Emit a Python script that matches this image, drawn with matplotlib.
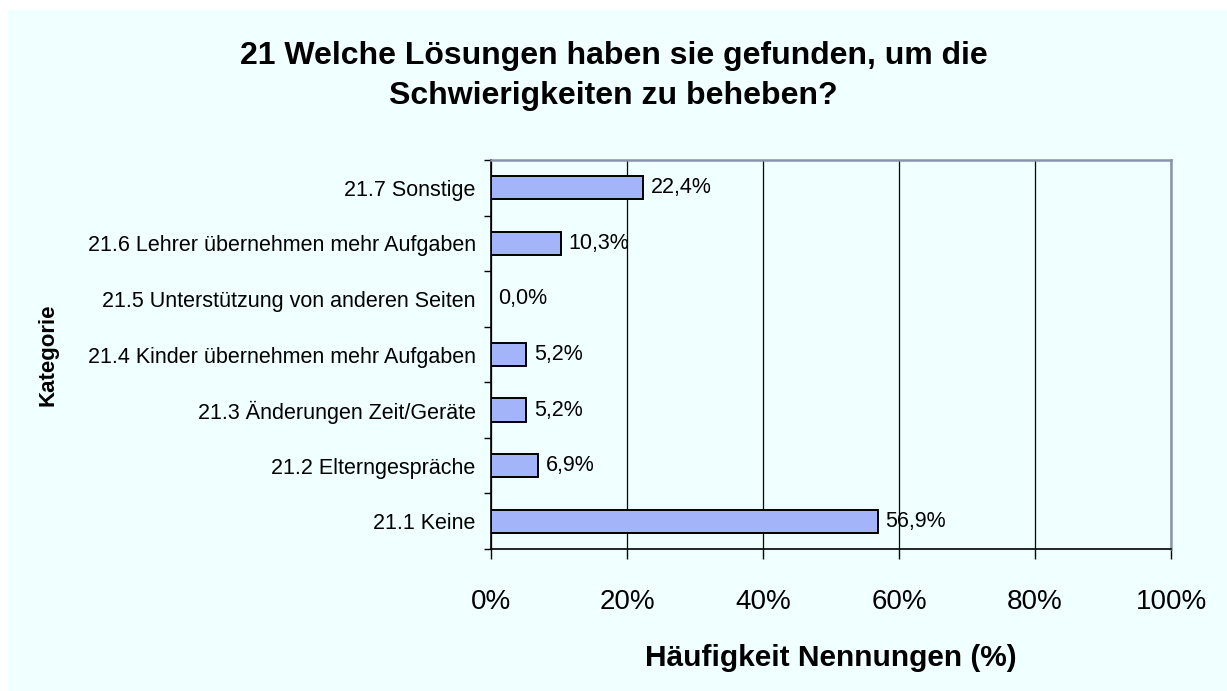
import matplotlib.pyplot as plt
from matplotlib.patches import Rectangle
from matplotlib.ticker import FixedLocator, PercentFormatter

# categories bottom -> top, values in percent
categories = [
    "21.1 Keine",
    "21.2 Elterngespräche",
    "21.3 Änderungen Zeit/Geräte",
    "21.4 Kinder übernehmen mehr Aufgaben",
    "21.5 Unterstützung von anderen Seiten",
    "21.6 Lehrer übernehmen mehr Aufgaben",
    "21.7 Sonstige",
]
values = [56.9, 6.9, 5.2, 5.2, 0.0, 10.3, 22.4]
xticks = [0, 20, 40, 60, 80, 100]

plt.rcParams['font.family'] = ['Liberation Sans', 'DejaVu Sans']

bg = '#F0FFFF'
fig = plt.figure(figsize=(12.27, 6.91), dpi=100)
fig.patch.set_facecolor(bg)
# small white margin on the left and at the top
fig.patches.append(Rectangle((0, 0), 8 / 1227, 1, transform=fig.transFigure,
                             facecolor='white', edgecolor='none', zorder=-10))
fig.patches.append(Rectangle((0, 1 - 10 / 691), 1, 10 / 691, transform=fig.transFigure,
                             facecolor='white', edgecolor='none', zorder=-10))

ax = fig.add_axes([491 / 1227, 1 - 549 / 691, 680 / 1227, 389 / 691])
ax.set_facecolor(bg)

y = list(range(len(categories)))
ax.barh(y, values, height=0.42, color='#A4B4F8', edgecolor='black', linewidth=1.4, zorder=3)

for yi, v in zip(y, values):
    ax.text(v + 1.1, yi, '{:.1f}%'.format(v).replace('.', ','),
            va='center', ha='left', fontsize=15.5, zorder=4)

ax.set_xlim(0, 100)
ax.set_ylim(-0.5, len(categories) - 0.5)
ax.set_xticks(xticks)
ax.xaxis.set_major_formatter(PercentFormatter(decimals=0))
ax.tick_params(axis='x', labelsize=20, length=7, width=1, pad=21.5)

ax.set_yticks(y)
ax.set_yticklabels(categories, fontsize=15.5)
ax.yaxis.set_minor_locator(FixedLocator([i - 0.5 for i in range(len(categories) + 1)]))
ax.tick_params(axis='y', which='major', length=0, pad=11)
ax.tick_params(axis='y', which='minor', length=5, width=1)

ax.grid(axis='x', color='black', linewidth=0.9, zorder=1)
ax.set_axisbelow(True)

for side in ['left', 'bottom']:
    ax.spines[side].set_color('black')
    ax.spines[side].set_linewidth(1.2)
for side in ['top', 'right']:
    ax.spines[side].set_color('#8894AA')
    ax.spines[side].set_linewidth(1.8)

ax.set_xlabel('Häufigkeit Nennungen (%)', fontsize=21.5, fontweight='bold', labelpad=21)
fig.text(48 / 1227, 1 - 355 / 691, 'Kategorie', rotation=90, ha='center', va='center',
         fontsize=16, fontweight='bold')

fig.text(0.5, 1 - 76 / 691, '21 Welche Lösungen haben sie gefunden, um die\nSchwierigkeiten zu beheben?',
         ha='center', va='center', fontsize=23, fontweight='bold', linespacing=1.42)

fig.savefig('out.png', dpi=100, facecolor=fig.get_facecolor())
